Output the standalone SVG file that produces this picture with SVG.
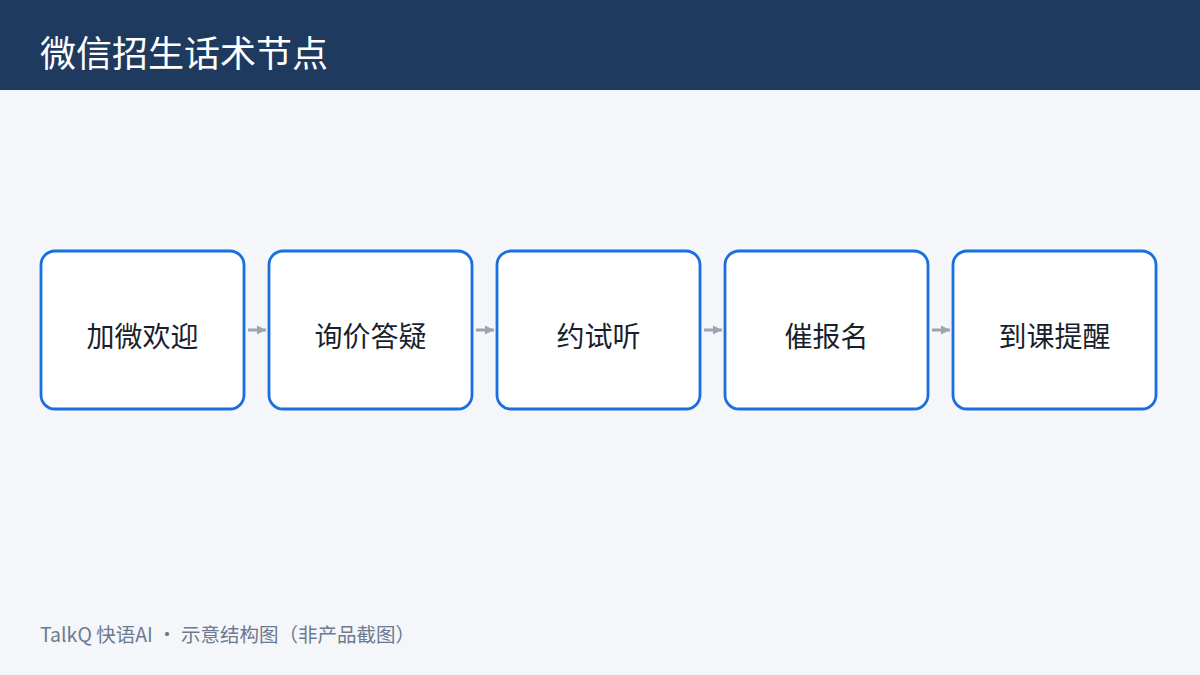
<svg xmlns="http://www.w3.org/2000/svg" width="1200" height="675" viewBox="0 0 1200 675">
<defs>
<style>
.node rect{fill:#ffffff;stroke:#1a6fe0;stroke-width:2.8}
.node text{font-family:"Noto Sans CJK SC","Noto Sans",sans-serif;font-size:28px;fill:#1a1f2e;text-anchor:middle}
.conn line{stroke:#9aa5b4;stroke-width:3}
.title{font-family:"Noto Sans CJK SC","Noto Sans",sans-serif;font-size:36px;fill:#ffffff}
.foot{font-family:"Noto Sans CJK SC","Noto Sans",sans-serif;font-size:19.5px;fill:#6b7a90}
</style>
<marker id="ah" viewBox="0 0 10 10" refX="10" refY="5" markerWidth="9" markerHeight="10" markerUnits="userSpaceOnUse" orient="auto">
<path d="M0,0 L10,5 L0,10 Z" fill="#9aa5b4"/>
</marker>
</defs>
<rect x="0" y="0" width="1200" height="675" fill="#f4f6fa"/>
<rect x="0" y="0" width="1200" height="90" fill="#1f3a5f"/>
<text class="title" x="40" y="67">微信招生话术节点</text>
<g id="connectors" class="conn">
<line x1="248" y1="330" x2="266" y2="330" marker-end="url(#ah)"/>
<line x1="476" y1="330" x2="494" y2="330" marker-end="url(#ah)"/>
<line x1="704" y1="330" x2="722" y2="330" marker-end="url(#ah)"/>
<line x1="932" y1="330" x2="950" y2="330" marker-end="url(#ah)"/>
</g>
<g id="node1" class="node"><rect x="41" y="251" width="203" height="158" rx="14"/><text x="142.5" y="347">加微欢迎</text></g>
<g id="node2" class="node"><rect x="269" y="251" width="203" height="158" rx="14"/><text x="370.5" y="347">询价答疑</text></g>
<g id="node3" class="node"><rect x="497" y="251" width="203" height="158" rx="14"/><text x="598.5" y="347">约试听</text></g>
<g id="node4" class="node"><rect x="725" y="251" width="203" height="158" rx="14"/><text x="826.5" y="347">催报名</text></g>
<g id="node5" class="node"><rect x="953" y="251" width="203" height="158" rx="14"/><text x="1054.5" y="347">到课提醒</text></g>
<text class="foot" x="40" y="642">TalkQ 快语AI · 示意结构图（非产品截图）</text>
</svg>
